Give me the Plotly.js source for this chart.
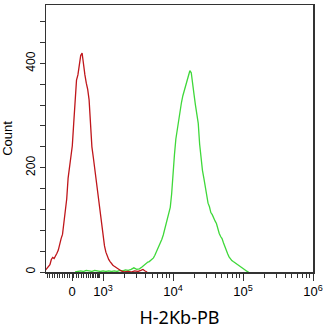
<!DOCTYPE html>
<html>
<head>
<meta charset="utf-8">
<script src="https://cdn.plot.ly/plotly-3.0.1.min.js"></script>
<style>html,body{margin:0;padding:0;background:#fff;}#chart{width:327px;height:329px;}</style>
</head>
<body>
<div id="chart"></div>
<script>
// x positions are in display decades of the biexponential (logicle) axis: 3 = 10^3, 4 = 10^4 ...
const redX = [2.18,2.20,2.22,2.24,2.26,2.28,2.30,2.32,2.34,2.36,2.38,2.40,2.42,2.44,2.46,2.48,2.50,2.52,2.54,2.56,2.58,2.60,2.62,2.64,2.66,2.68,2.70,2.72,2.74,2.76,2.78,2.80,2.82,2.84,2.86,2.88,2.90,2.92,2.94,2.96,2.98,3.00,3.02,3.04,3.06,3.08,3.10,3.12,3.14,3.16,3.18,3.20,3.22,3.24,3.26,3.28,3.30,3.35,3.40,3.45,3.50,3.54,3.57,3.60,3.63];
const redCount = [4,8,10,14,24,28,26,30,36,42,55,64,72,96,110,140,180,205,225,242,285,335,368,378,398,415,420,395,378,362,350,330,270,240,220,198,180,160,138,108,85,65,50,38,30,24,20,16,13,11,9,7,5,3,2,1,0,1,0,2,1,3,5,2,0];

const greenX = [2.60,2.64,2.68,2.72,2.76,2.80,2.84,2.88,2.92,2.96,3.00,3.04,3.08,3.12,3.16,3.20,3.24,3.28,3.32,3.36,3.40,3.44,3.48,3.52,3.56,3.60,3.64,3.66,3.68,3.70,3.72,3.74,3.76,3.78,3.80,3.82,3.84,3.86,3.88,3.90,3.92,3.94,3.96,3.98,4.00,4.02,4.04,4.06,4.08,4.10,4.12,4.14,4.16,4.18,4.20,4.22,4.24,4.26,4.28,4.30,4.32,4.34,4.36,4.38,4.40,4.42,4.44,4.46,4.48,4.50,4.52,4.54,4.56,4.58,4.60,4.62,4.64,4.66,4.68,4.70,4.72,4.74,4.76,4.78,4.80,4.82,4.84,4.86,4.88,4.90,4.92,4.94,4.96,4.98,5.00,5.02,5.04,5.06,5.08];
const greenCount = [0,1,2,1,3,2,1,3,2,1,2,1,2,1,2,1,3,2,4,3,5,8,5,6,10,15,19,20,22,25,27,32,38,44,50,55,63,71,82,90,104,115,124,150,195,225,255,275,295,312,325,338,348,358,368,378,386,382,365,340,320,302,285,245,215,195,180,162,145,132,125,114,110,103,98,93,82,74,68,64,56,48,43,35,29,25,22,20,18,17,14,12,10,8,6,4,2,1,0];

const xTickVals = [2.558, 3, 4, 5, 6];
const xTickText = ['0', '10<sup>3</sup>', '10<sup>4</sup>', '10<sup>5</sup>', '10<sup>6</sup>'];
const xMinorVals = [2.201,2.234,2.272,2.305,2.344,2.377,2.415,2.448,2.486,2.524,2.581,2.615,2.652,2.686,2.723,2.757,2.795,2.819,2.843,2.866,2.890,2.914,2.937,2.951,
  3.301,3.477,3.602,3.699,3.778,3.845,3.903,3.954,
  4.301,4.477,4.602,4.699,4.778,4.845,4.903,4.954,
  5.301,5.477,5.602,5.699,5.778,5.845,5.903,5.954];
const yTickVals = [0, 200, 400];
const yTickText = ['0', '200', '400'];

const traces = [
  {x: greenX, y: greenCount, type: 'scatter', mode: 'lines', line: {color: '#3fd83a', width: 1.3}, hoverinfo: 'skip'},
  {x: redX, y: redCount, type: 'scatter', mode: 'lines', line: {color: '#bf161b', width: 1.3}, hoverinfo: 'skip'}
];

const layout = {
  width: 327, height: 329,
  margin: {l: 46, r: 14, t: 5, b: 57},
  paper_bgcolor: '#fff', plot_bgcolor: '#fff',
  showlegend: false,
  font: {family: 'Arial, Liberation Sans, sans-serif', color: '#000'},
  xaxis: {
    range: [2.184, 6.0], showgrid: false, zeroline: false,
    showline: true, linecolor: '#333', linewidth: 1.5, mirror: true,
    tickmode: 'array', tickvals: xTickVals, ticktext: xTickText,
    ticks: 'outside', ticklen: 7, tickwidth: 1, tickcolor: '#333',
    tickfont: {size: 13, color: '#000'},
    minor: {tickmode: 'array', tickvals: xMinorVals, ticks: 'outside', ticklen: 4, tickwidth: 1, tickcolor: '#333', showgrid: false},
    title: {text: 'H-2Kb-PB', font: {size: 18, family: 'Noto Sans, DejaVu Sans, sans-serif', color: '#000'}, standoff: 13},
    fixedrange: true
  },
  yaxis: {
    range: [0, 512], showgrid: false, zeroline: false,
    showline: true, linecolor: '#333', linewidth: 1.5, mirror: true,
    tickmode: 'array', tickvals: yTickVals, ticktext: yTickText, tickangle: -90,
    ticks: 'outside', ticklen: 5, tickwidth: 1, tickcolor: '#333',
    tickfont: {size: 12, color: '#000'},
    minor: {dtick: 40, tick0: 0, ticks: 'outside', ticklen: 5, tickwidth: 1, tickcolor: '#333', showgrid: false},
    title: {text: 'Count', font: {size: 13, color: '#000'}, standoff: 8},
    fixedrange: true
  }
};

Plotly.newPlot('chart', traces, layout, {displayModeBar: false, staticPlot: true});
</script>
</body>
</html>
